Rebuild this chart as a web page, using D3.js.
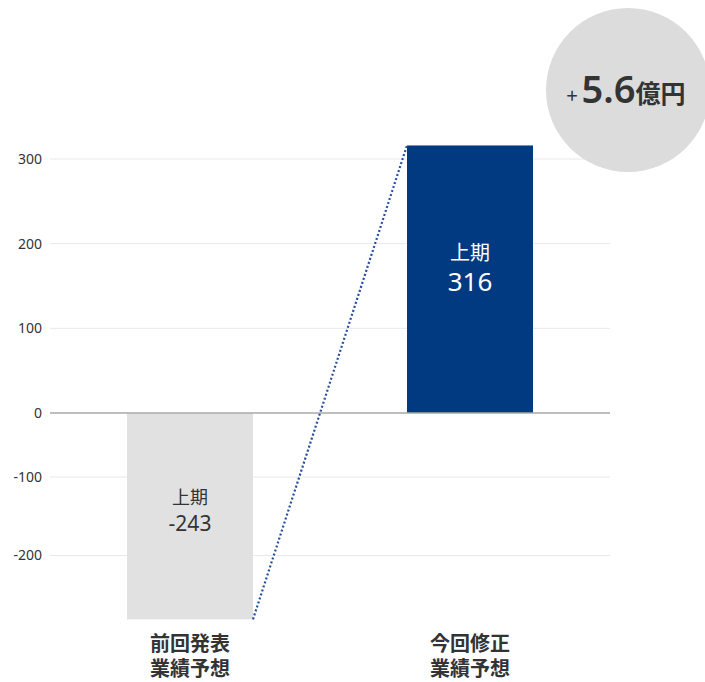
<!DOCTYPE html>
<html lang="ja">
<head>
<meta charset="utf-8">
<script src="https://cdn.jsdelivr.net/npm/d3@7"></script>
<style>
  html, body { margin: 0; padding: 0; background: #fff; }
  svg { display: block; font-family: "Noto Sans CJK JP", "Noto Sans", sans-serif; }
</style>
</head>
<body>
<svg id="chart" width="705" height="682"></svg>
<script>
// Categories (two-line labels) and first-half forecast values
const categories = ["前回発表\n業績予想", "今回修正\n業績予想"];
const periodLabels = ["上期", "上期"];
const values = [-243, 316];
const tickValues = [300, 200, 100, 0, -100, -200];
const differenceLabel = { sign: "+", number: "5.6", unit: "億円" };

const svg = d3.select("#chart");

const plotLeft = 50, plotRight = 610;

// Vertical scale: the axis below zero is drawn compressed, so the
// scale is piecewise linear
const y = d3.scaleLinear()
  .domain([-300, -200, -100, 0, 300])
  .range([704, 555.5, 477, 413, 159]);

const x = d3.scalePoint()
  .domain(categories)
  .range([plotLeft, plotRight])
  .padding(0.5);
const barWidth = 126;

// Gridlines
svg.append("g")
  .selectAll("line")
  .data(tickValues.filter(d => d !== 0))
  .join("line")
  .attr("x1", plotLeft).attr("x2", plotRight)
  .attr("y1", d => y(d)).attr("y2", d => y(d))
  .attr("stroke", "#e8e8e8").attr("stroke-width", 1);

// Tick labels (plain hyphen for negatives)
const axis = d3.axisLeft(y)
  .tickValues(tickValues)
  .tickFormat(d => String(d))
  .tickSize(0).tickPadding(0);
const axisG = svg.append("g")
  .attr("transform", `translate(${plotLeft - 8},0)`)
  .call(axis);
axisG.select(".domain").remove();
axisG.selectAll("text")
  .attr("font-size", 14)
  .attr("fill", "#333")
  .attr("font-family", "'Noto Sans', 'Noto Sans CJK JP', sans-serif");

// Bars
const barColors = ["#e1e1e1", "#013a80"];
svg.append("g")
  .selectAll("rect")
  .data(values)
  .join("rect")
  .attr("x", (d, i) => x(categories[i]) - barWidth / 2)
  .attr("width", barWidth)
  .attr("y", d => y(Math.max(0, d)))
  .attr("height", d => Math.abs(y(d) - y(0)))
  .attr("fill", (d, i) => barColors[i]);

// Zero baseline
svg.append("line")
  .attr("x1", plotLeft).attr("x2", plotRight)
  .attr("y1", y(0)).attr("y2", y(0))
  .attr("stroke", "#a9a9a9").attr("stroke-width", 1.5);

// Dotted connector from the previous forecast to the revised one
svg.append("line")
  .attr("x1", x(categories[0]) + barWidth / 2)
  .attr("y1", y(values[0]))
  .attr("x2", x(categories[1]) - barWidth / 2)
  .attr("y2", y(values[1]))
  .attr("stroke", "#1f4f9e")
  .attr("stroke-width", 2.2)
  .attr("stroke-dasharray", "2,2.2");

// Value labels inside the bars
const labelStyle = [
  { color: "#333", top: 504, sub: 531, s1: 18, s2: 21 },
  { color: "#fff", top: 260, sub: 291, s1: 20, s2: 26 }
];
values.forEach((v, i) => {
  const cx = x(categories[i]);
  const st = labelStyle[i];
  svg.append("text")
    .attr("x", cx).attr("y", st.top)
    .attr("text-anchor", "middle")
    .attr("font-size", st.s1)
    .attr("fill", st.color)
    .text(periodLabels[i]);
  svg.append("text")
    .attr("x", cx).attr("y", st.sub)
    .attr("text-anchor", "middle")
    .attr("font-size", st.s2)
    .attr("fill", st.color)
    .attr("font-family", "'Noto Sans', 'Noto Sans CJK JP', sans-serif")
    .text(v);
});

// Category labels, one text per line
categories.forEach(c => {
  c.split("\n").forEach((line, j) => {
    svg.append("text")
      .attr("x", x(c)).attr("y", 651 + j * 25)
      .attr("text-anchor", "middle")
      .attr("font-size", 20)
      .attr("font-weight", "bold")
      .attr("fill", "#333")
      .text(line);
  });
});

// Difference badge
const badge = svg.append("g").attr("transform", "translate(628,90)");
badge.append("circle").attr("r", 82).attr("fill", "#dcdcdc");
const bt = badge.append("text")
  .attr("x", -2).attr("y", 13)
  .attr("text-anchor", "middle")
  .attr("fill", "#333")
  .attr("font-weight", "bold");
bt.append("tspan").attr("font-size", 20).attr("font-weight", "normal").text(differenceLabel.sign);
bt.append("tspan").attr("font-size", 38).attr("dx", 4)
  .attr("font-family", "'Noto Sans', 'Noto Sans CJK JP', sans-serif")
  .attr("font-weight", 600)
  .text(differenceLabel.number);
bt.append("tspan").attr("font-size", 25).text(differenceLabel.unit);
</script>
</body>
</html>
